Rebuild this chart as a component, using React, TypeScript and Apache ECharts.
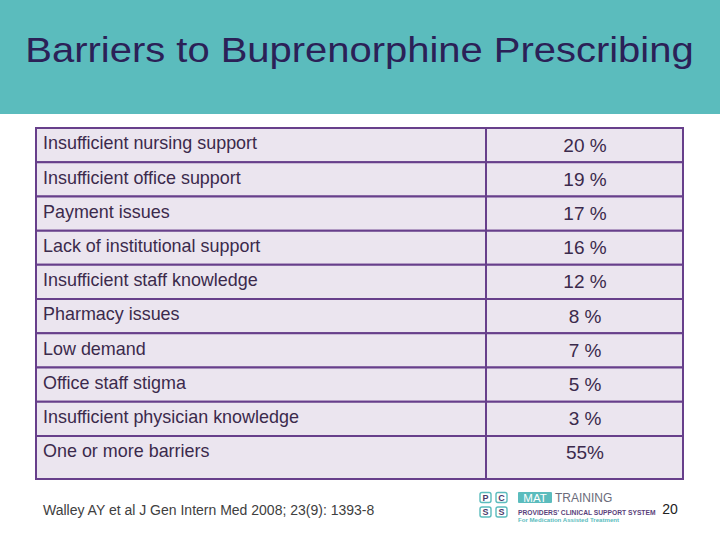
import React, { useEffect, useRef } from "react";
import * as echarts from "echarts";

const barriers = [
  "Insufficient nursing support",
  "Insufficient office support",
  "Payment issues",
  "Lack of institutional support",
  "Insufficient staff knowledge",
  "Pharmacy issues",
  "Low demand",
  "Office staff stigma",
  "Insufficient physician knowledge",
  "One or more barriers",
];
const percents = [20, 19, 17, 16, 12, 8, 7, 5, 3, 55];
const percentLabels = ["20 %", "19 %", "17 %", "16 %", "12 %", "8 %", "7 %", "5 %", "3 %", "55%"];
const rowHeights = [1, 1, 1, 1, 1, 1, 1, 1, 1, 1.26];

const TITLE = "Barriers to Buprenorphine Prescribing";
const CITATION = "Walley AY et al J Gen Intern Med 2008; 23(9): 1393-8";
const PAGE = "20";

export default function App() {
  const ref = useRef<HTMLDivElement>(null);
  useEffect(() => {
    if (!ref.current) return;
    const chart = echarts.init(ref.current, undefined, { renderer: "svg" });
    const starts: number[] = [];
    let acc = 0;
    rowHeights.forEach((h) => {
      starts.push(acc);
      acc += h;
    });
    const total = acc;
    const data = barriers.map((b, i) => [i, starts[i], rowHeights[i], percents[i]]);
    const purple = "#673f8b";
    const font = '"Liberation Sans", Arial, sans-serif';

    chart.setOption({
      animation: false,
      backgroundColor: "#ffffff",
      grid: { left: 36, top: 128, width: 647, height: 351, containLabel: false },
      xAxis: { type: "value", min: 0, max: 647, show: false },
      yAxis: { type: "value", min: 0, max: total, inverse: true, show: false },
      series: [
        {
          type: "custom",
          data,
          renderItem: (params: any, api: any) => {
            const i = api.value(0);
            const s = api.value(1);
            const h = api.value(2);
            const p0 = api.coord([0, s]);
            const pDiv = api.coord([450, s + h]);
            const p1 = api.coord([647, s + h]);
            const top = p0[1];
            const bottom = p1[1];
            const cellStyle = { fill: "#ebe5ef", stroke: purple, lineWidth: 2 };
            return {
              type: "group",
              children: [
                {
                  type: "rect",
                  shape: { x: p0[0], y: top, width: pDiv[0] - p0[0], height: bottom - top },
                  style: cellStyle,
                },
                {
                  type: "rect",
                  shape: { x: pDiv[0], y: top, width: p1[0] - pDiv[0], height: bottom - top },
                  style: cellStyle,
                },
                {
                  type: "text",
                  x: p0[0] + 7,
                  y: top + 15.5,
                  scaleX: 1.025,
                  style: {
                    text: barriers[i],
                    fill: "#3b2a4c",
                    font: `17.5px ${font}`,
                    verticalAlign: "middle",
                    align: "left",
                  },
                },
                {
                  type: "text",
                  x: 585,
                  y: top + 17,
                  style: {
                    text: percentLabels[i],
                    fill: "#3b2a4c",
                    font: `19px ${font}`,
                    verticalAlign: "middle",
                    align: "center",
                  },
                },
              ],
            };
          },
        },
      ],
      graphic: [
        { type: "rect", shape: { x: 0, y: 0, width: 720, height: 114 }, style: { fill: "#5bbcbd" } },
        {
          type: "text",
          x: 359.5,
          y: 50,
          scaleX: 1.11,
          style: {
            text: TITLE,
            fill: "#2b2157",
            font: `36px ${font}`,
            align: "center",
            verticalAlign: "middle",
          },
        },
        {
          type: "text",
          x: 43,
          y: 510,
          style: { text: CITATION, fill: "#404040", font: `14px ${font}`, verticalAlign: "middle" },
        },
        {
          type: "text",
          x: 670,
          y: 509,
          style: { text: PAGE, fill: "#222222", font: `14px ${font}`, align: "center", verticalAlign: "middle" },
        },
        ...[
          ["P", 480, 492.5],
          ["C", 496, 492.5],
          ["S", 480, 507],
          ["S", 496, 507],
        ].map(([t, x, y]) => ({
          type: "group",
          children: [
            {
              type: "rect",
              shape: { x: x as number, y: y as number, width: 11, height: 10, r: 2 },
              style: { fill: "#ffffff", stroke: "#5bbcbd", lineWidth: 1.4 },
            },
            {
              type: "text",
              x: (x as number) + 5.5,
              y: (y as number) + 5.3,
              style: {
                text: t as string,
                fill: "#4b3a6a",
                font: `bold 9px ${font}`,
                align: "center",
                verticalAlign: "middle",
              },
            },
          ],
        })),
        {
          type: "rect",
          shape: { x: 518, y: 492, width: 34, height: 11, r: 1 },
          style: { fill: "#5bbcbd" },
        },
        {
          type: "text",
          x: 535,
          y: 497.8,
          style: { text: "MAT", fill: "#ffffff", font: `11.5px ${font}`, align: "center", verticalAlign: "middle" },
        },
        {
          type: "text",
          x: 555,
          y: 497.8,
          style: { text: "TRAINING", fill: "#6b6b7a", font: `12px ${font}`, verticalAlign: "middle" },
        },
        {
          type: "text",
          x: 518,
          y: 512,
          style: {
            text: "PROVIDERS' CLINICAL SUPPORT SYSTEM",
            fill: "#5a3f7a",
            font: `bold 6.7px ${font}`,
            verticalAlign: "middle",
          },
        },
        {
          type: "text",
          x: 518,
          y: 519.5,
          style: {
            text: "For Medication Assisted Treatment",
            fill: "#5bbcbd",
            font: `bold 6.1px ${font}`,
            verticalAlign: "middle",
          },
        },
      ],
    });
    return () => chart.dispose();
  }, []);
  return <div ref={ref} style={{ width: 720, height: 540, position: "absolute", left: 0, top: 0 }} />;
}
